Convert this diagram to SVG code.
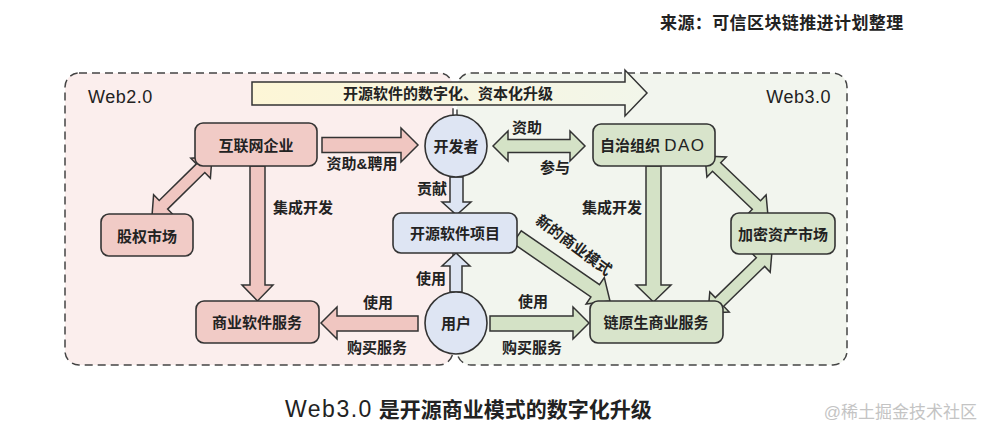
<svg xmlns="http://www.w3.org/2000/svg" width="995" height="441" viewBox="0 0 995 441">
<defs>
<linearGradient id="bigGrad" x1="0" y1="0" x2="1" y2="0">
<stop offset="0" stop-color="#fdf6d6"/>
<stop offset="1" stop-color="#f2f6ea"/>
</linearGradient>
<style>
.panel{stroke:#444;stroke-width:1.5;stroke-dasharray:8 5}
.pink{fill:#f1cbc6;stroke:#333;stroke-width:1.6}
.green{fill:#d8e4cb;stroke:#333;stroke-width:1.6}
.blue{fill:#dee5f3;stroke:#333;stroke-width:1.6}
.pa{fill:#f0c6c1;stroke:#333;stroke-width:1.5;stroke-linejoin:miter}
.ga{fill:#d4e2c6;stroke:#333;stroke-width:1.5}
.ba{fill:#dde5f3;stroke:#333;stroke-width:1.5}
text{font-family:"Liberation Sans","Noto Sans CJK SC",sans-serif;fill:#222}
.lbl{font-size:15px;font-weight:bold;text-anchor:middle;dominant-baseline:central}
.edge{font-size:15px;font-weight:bold;dominant-baseline:central}
</style>
</defs>
<rect width="995" height="441" fill="#fff"/>

<g id="panels">
<rect id="web2" class="panel" x="65" y="73" width="388" height="292" rx="14" fill="#fbeeed"/>
<rect id="web3" class="panel" x="457" y="73" width="390" height="292" rx="14" fill="#f2f5ee"/>
<text x="88" y="103" font-size="18" letter-spacing="0.5">Web2.0</text>
<text x="831" y="103" font-size="18" letter-spacing="0.5" text-anchor="end">Web3.0</text>
</g>

<g id="connectors">
<polygon points="252,82 625,82 625,70 647,93 625,116 625,105 252,105" fill="url(#bigGrad)" stroke="#333" stroke-width="1.5"/>
<text class="lbl" x="448" y="93">开源软件的数字化、资本化升级</text>

<!-- 互联网企业 <-> 股权市场 -->
<polygon class="pa" points="152,216 173.2,214.8 167.6,209.1 204.8,172.5 210.4,178.2 212,157 190.8,158.2 196.4,163.9 159.2,200.5 153.6,194.8"/>
<!-- 集成开发 left -->
<polygon class="pa" points="250,166 265,166 265,285 273,285 257.5,301 242,285 250,285"/>
<text class="edge" x="273" y="207">集成开发</text>
<!-- 资助&聘用 -->
<polygon class="pa" points="322,137.5 401,137.5 401,128 418,145 401,162 401,152.5 322,152.5"/>
<text class="lbl" x="362" y="163">资助&amp;聘用</text>
<!-- 用户 -> 商业软件服务 -->
<polygon class="pa" points="418,316 337,316 337,307 321,323 337,339 337,331 418,331"/>
<text class="lbl" x="378" y="302">使用</text>
<text class="lbl" x="377" y="347">购买服务</text>

<!-- 开发者 <-> DAO -->
<polygon class="ga" points="493,146 508,131 508,139.5 570,139.5 570,131 585,146 570,161 570,152.5 508,152.5 508,161"/>
<text class="lbl" x="527" y="127">资助</text>
<text class="lbl" x="555" y="167">参与</text>

<!-- 贡献 -->
<polygon class="ba" points="450,177 463,177 463,202 471,202 456.5,215 442,202 450,202"/>
<text class="lbl" x="432" y="188">贡献</text>
<!-- 用户 -> 开源软件项目 -->
<polygon class="ba" points="450,292 450,266 442,266 456,253 470,266 462,266 462,292"/>
<text class="lbl" x="431" y="278">使用</text>

<!-- 新的商业模式 -->
<polygon class="ga" points="512.75,243.2 590.9,297 586.1,304 610,301 604.3,277.6 599.5,284.6 521.25,230.8"/>
<text class="lbl" x="574" y="245" transform="rotate(36.6 574 245)">新的商业模式</text>

<!-- 集成开发 right -->
<polygon class="ga" points="646,166 661,166 661,285 671,285 653.5,302 636,285 646,285"/>
<text class="lbl" x="612" y="207">集成开发</text>

<!-- DAO <-> 加密资产市场 -->
<polygon class="ga" points="705,156 706.9,177.1 712.5,171.3 752.3,209.3 746.7,215.1 768,216 766.1,194.9 760.5,200.7 720.7,162.7 726.3,156.9"/>
<!-- 加密资产市场 <-> 链原生商业服务 -->
<polygon class="ga" points="708,313 729.2,312 723.7,306.2 764.7,266.4 770.2,272.2 772,251 750.8,252.1 756.3,257.8 715.3,297.6 709.8,291.9"/>

<!-- 用户 -> 链原生商业服务 -->
<polygon class="ga" points="490,316 573,316 573,307 589,323 573,339 573,331 490,331"/>
<text class="lbl" x="533" y="301">使用</text>
<text class="lbl" x="532" y="347">购买服务</text>
</g>

<g id="n-internet"><rect class="pink" x="195" y="123" width="122" height="43" rx="8"/><text class="lbl" x="256" y="145">互联网企业</text></g>
<g id="n-equity"><rect class="pink" x="101" y="214" width="92" height="42" rx="8"/><text class="lbl" x="147" y="236">股权市场</text></g>
<g id="n-commercial"><rect class="pink" x="196" y="301" width="123" height="42" rx="8"/><text class="lbl" x="257" y="322">商业软件服务</text></g>
<g id="n-dev"><circle class="blue" cx="456" cy="146" r="31"/><text class="lbl" x="456" y="146">开发者</text></g>
<g id="n-oss"><rect class="blue" x="393" y="213" width="124" height="40" rx="8"/><text class="lbl" x="455" y="233">开源软件项目</text></g>
<g id="n-user"><circle class="blue" cx="456" cy="323" r="31"/><text class="lbl" x="456" y="323">用户</text></g>
<g id="n-dao"><rect class="green" x="593" y="124" width="122" height="42" rx="8"/><text class="edge" x="600" y="145">自治组织 <tspan font-size="17" font-weight="normal" letter-spacing="1.5">DAO</tspan></text></g>
<g id="n-crypto"><rect class="green" x="731" y="213" width="104" height="41" rx="8"/><text class="lbl" x="783" y="234">加密资产市场</text></g>
<g id="n-chain"><rect class="green" x="590" y="301" width="133" height="42" rx="8"/><text class="lbl" x="656" y="322">链原生商业服务</text></g>

<g id="captions">
<text x="660" y="23" font-size="17" font-weight="bold" letter-spacing="0.4" dominant-baseline="central">来源：可信区块链推进计划整理</text>
<text x="285" y="409" font-size="21" font-weight="bold" dominant-baseline="central"><tspan font-size="23" font-weight="normal" letter-spacing="1.5">Web3.0</tspan> 是开源商业模式的数字化升级</text>
<text x="977" y="412" font-size="17" text-anchor="end" dominant-baseline="central" style="fill:#c4c4c4">@稀土掘金技术社区</text>
</g>
</svg>
